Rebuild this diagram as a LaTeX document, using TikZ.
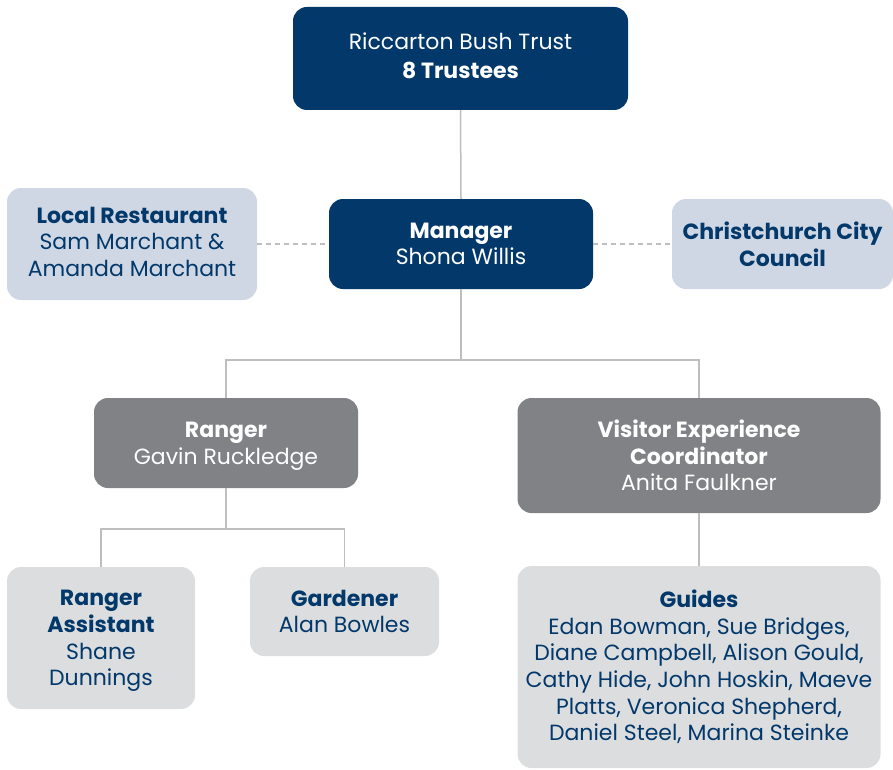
\documentclass[tikz,border=0pt]{standalone}
\usepackage{fontspec}
\setmainfont{Poppins}
\definecolor{navy}{RGB}{2,56,106}
\definecolor{paleblue}{RGB}{207,215,228}
\definecolor{midgray}{RGB}{128,130,134}
\definecolor{palegray}{RGB}{220,221,223}
\definecolor{linkgray}{RGB}{190,190,192}
\begin{document}
\begin{tikzpicture}[x=1pt,y=-1pt,
  box/.style={rounded corners=14pt, align=center, inner sep=0pt,
    font=\fontsize{22}{26.6}\selectfont},
  dark/.style={box, fill=navy, text=white},
  pale/.style={box, fill=paleblue, text=navy},
  grey/.style={box, fill=midgray, text=white},
  light/.style={box, fill=palegray, text=navy},
  conn/.style={draw=linkgray, line width=1.5pt},
  dashconn/.style={conn, dash pattern=on 5pt off 4pt}]
\useasboundingbox (0,0) rectangle (893,770);

% top level
\node[dark, minimum width=335, minimum height=103,
  font=\fontsize{22}{29}\selectfont, text depth=6pt] (trust) at (460.5,58.5)
  {Riccarton Bush Trust\\\textbf{8 Trustees}};

% management row
\node[dark, minimum width=264, minimum height=90] (mgr) at (461,244)
  {\textbf{Manager}\\Shona Willis};
\node[pale, minimum width=250, minimum height=112, text depth=4.5pt] (rest) at (132,244)
  {\textbf{Local Restaurant}\\Sam Marchant \&\\Amanda Marchant};
\node[pale, minimum width=221, minimum height=90] (ccc) at (782.5,244)
  {\textbf{Christchurch City}\\\textbf{Council}};

% staff
\node[grey, minimum width=264, minimum height=90, text depth=0pt] (ranger) at (226,443)
  {\textbf{Ranger}\\Gavin Ruckledge};
\node[grey, minimum width=363, minimum height=115] (vec) at (699,455.5)
  {\textbf{Visitor Experience}\\\textbf{Coordinator}\\Anita Faulkner};

% volunteers and assistants
\node[light, minimum width=188, minimum height=142, text depth=0pt] (asst) at (101,638)
  {\textbf{Ranger}\\\textbf{Assistant}\\Shane\\Dunnings};
\node[light, minimum width=189, minimum height=89] (gard) at (344.5,611.5)
  {\textbf{Gardener}\\Alan Bowles};
\node[light, minimum width=363, minimum height=202] (guides) at (699,667)
  {\textbf{Guides}\\Edan Bowman, Sue Bridges,\\Diane Campbell, Alison Gould,\\Cathy Hide, John Hoskin, Maeve\\Platts, Veronica Shepherd,\\Daniel Steel, Marina Steinke};

% bus lines
\coordinate (bus1) at (461,360);
\coordinate (bus2) at (226,529);

% connectors
\draw[conn] (trust.south) -- (mgr.north);
\draw[conn] (mgr.south) -- (mgr.south |- bus1) -| (ranger.north);
\draw[conn] (mgr.south |- bus1) -| (vec.north);
\draw[conn] (ranger.south) -- (bus2) -| (asst.north);
\draw[conn] (bus2) -| (gard.north);
\draw[conn] (vec.south) -- (guides.north);
\draw[dashconn] (rest.east) -- (mgr.west);
\draw[dashconn] (mgr.east) -- (ccc.west);
\end{tikzpicture}
\end{document}
